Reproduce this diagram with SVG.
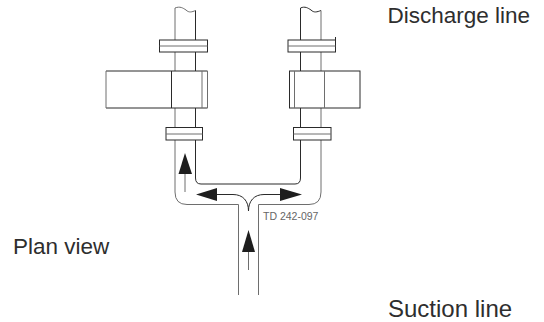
<svg xmlns="http://www.w3.org/2000/svg" width="544" height="322" viewBox="0 0 544 322">
<style>
.k{fill:none;stroke:#2a2a2a;stroke-width:1}
.g{fill:none;stroke:#6e6e6e;stroke-width:1}
.f{fill:#1e1e1e;stroke:none}
text{font-family:"Liberation Sans",Arial,sans-serif;fill:#2e2e2e}
.t{font-size:22.500px}
.s{font-size:10.500px;fill:#666}
</style>
<rect width="544" height="322" fill="#fff"/>
<g id="connectors">
<path class="g" d="M175 40V8C180 6 183 8 186 10C189 13 192 12 195.500 10.500"/>
<path class="k" d="M195.500 10.500V40M195.500 52V71M195.500 108V127.500"/>
<path class="g" d="M175 52V71M175 108V127.500"/>
<path class="k" d="M300.500 40V8C305 6 308 8 311 10C314 13 317 12 321 10.500"/>
<path class="g" d="M321 10.500V40"/>
<path class="k" d="M300.500 52V71M300.500 108V127.500"/>
<path class="g" d="M321 52V71M321 108V127.500"/>
<path class="g" d="M175 140V192Q175 204.500 187 204.500H238.500V295"/>
<path class="k" d="M195.500 140V178Q195.500 184 201 184H295Q300.500 184 300.500 178V140"/>
<path class="g" d="M321 140V192Q321 204.500 309 204.500H258.500V295"/>
<path class="g" d="M185 192V172"/>
<path class="f" d="M185 153L192 174H178.500Z"/>
<path class="k" d="M217 194.500H233C243 194.500 248.500 201 248.500 211C248.500 201 254 194.500 264 194.500H281"/>
<path class="f" d="M196 194.500L217 188V201Z"/>
<path class="f" d="M302 194.500L280 188V201Z"/>
<path class="g" d="M248.500 270V250"/>
<path class="f" d="M248.500 230L255 252H242Z"/>
</g>
<g id="valve-left">
<rect class="k" x="159.500" y="40" width="48" height="12"/>
<path class="g" d="M159.500 46H207.500"/>
<path class="k" d="M106 71H207.500M106 108H207.500M171.500 71V108"/>
<path class="g" d="M106 71V108M202 71V108M207.500 71V108"/>
<rect class="k" x="166" y="127.500" width="36.500" height="12.500"/>
<path class="g" d="M166 134H202.500"/>
</g>
<g id="valve-right">
<rect class="k" x="288" y="40" width="47.500" height="12"/>
<path class="g" d="M288 46H335.500"/>
<path class="k" d="M335.500 37V40"/>
<rect class="k" x="289.500" y="71" width="70.500" height="37"/>
<path class="g" d="M294.500 71V108M324.500 71V108"/>
<rect class="k" x="293.500" y="127.500" width="37.500" height="12.500"/>
<path class="g" d="M293.500 134H331"/>
</g>
<text id="discharge" class="t" x="387.500" y="22.500">Discharge line</text>
<text id="plan" class="t" x="13" y="254">Plan view</text>
<text id="suction" class="t" x="388" y="316.500" style="font-size:24px">Suction line</text>
<text id="td" class="s" x="263" y="219.500">TD 242-097</text>
</svg>
